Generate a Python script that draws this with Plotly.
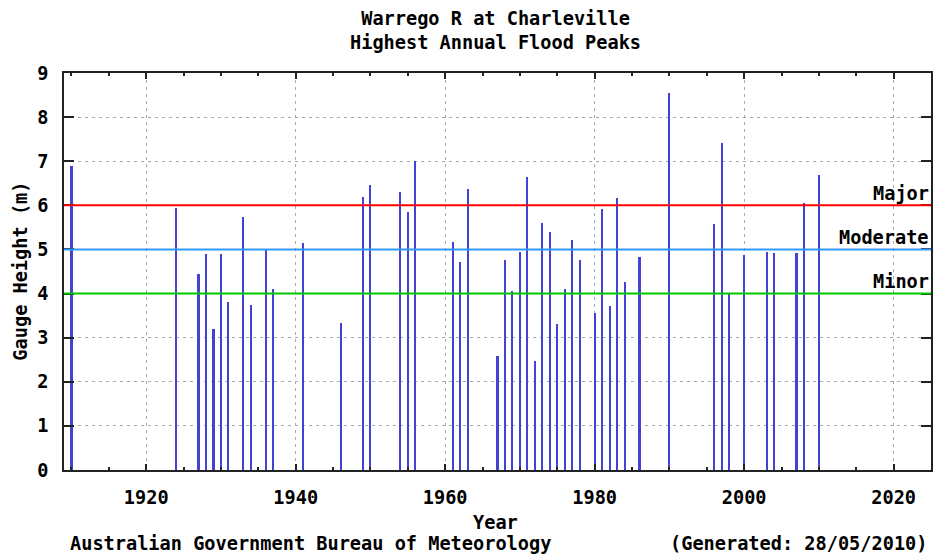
import plotly.graph_objects as go

# ---- data ----
years = [1910, 1924, 1927, 1928, 1929, 1930, 1931, 1933, 1934, 1936, 1937, 1941,
         1946, 1949, 1950, 1954, 1955, 1956, 1961, 1962, 1963, 1967, 1968, 1969,
         1970, 1971, 1972, 1973, 1974, 1975, 1976, 1977, 1978, 1980, 1981, 1982,
         1983, 1984, 1986, 1990, 1996, 1997, 1998, 2000, 2003, 2004, 2007, 2008,
         2010]
heights = [6.90, 5.94, 4.44, 4.89, 3.20, 4.89, 3.82, 5.73, 3.74, 5.02, 4.11, 5.14,
           3.34, 6.20, 6.46, 6.31, 5.84, 7.00, 5.17, 4.71, 6.38, 2.58, 4.77, 4.05,
           4.95, 6.64, 2.47, 5.61, 5.39, 3.31, 4.11, 5.21, 4.77, 3.56, 5.91, 3.71,
           6.16, 4.26, 4.84, 8.55, 5.58, 7.41, 4.00, 4.88, 4.95, 4.92, 4.92, 6.05,
           6.68]
level_names = ["Minor", "Moderate", "Major"]
level_values = [4, 5, 6]
level_colors = ["#00c800", "#3399ff", "#ff0000"]

x_range = [1909, 2025]
y_range = [0, 9]

FONT = "DejaVu Sans Mono"
FS = 18.6
BAR_COLOR = "#4242d4"

fig = go.Figure()
fig.add_trace(go.Bar(x=years, y=heights, width=0.28,
                     marker=dict(color=BAR_COLOR, line=dict(width=0)),
                     showlegend=False))

for name, val, col in zip(level_names, level_values, level_colors):
    fig.add_shape(type="line", xref="paper", x0=0, x1=1, yref="y", y0=val, y1=val,
                  line=dict(color=col, width=2), layer="above")
    fig.add_annotation(xref="paper", x=1.0, yref="y", y=val, yshift=12,
                       text=name, showarrow=False, xanchor="right", yanchor="middle",
                       font=dict(family=FONT, size=FS, color="black", weight="bold"))

grid = dict(showgrid=True, gridcolor="#a8a8a8", griddash="3px,4px", gridwidth=1)

fig.update_xaxes(range=x_range, tickmode="linear", tick0=1920, dtick=20,
                 ticks="inside", ticklen=6, tickwidth=1.5, tickcolor="#222",
                 showline=True, linecolor="#222", linewidth=1.5, mirror="ticks",
                 zeroline=False, ticklabelstandoff=10,
                 minor=dict(tick0=1910, dtick=5, ticks="inside", ticklen=3,
                            tickcolor="#222", showgrid=False),
                 tickfont=dict(family=FONT, size=FS, color="black", weight="bold"),
                 **grid)
fig.update_yaxes(range=y_range, tickmode="linear", tick0=0, dtick=1,
                 ticks="inside", ticklen=10, tickwidth=1.5, tickcolor="#222",
                 showline=True, linecolor="#222", linewidth=1.5, mirror="ticks",
                 zeroline=False, ticklabelstandoff=10,
                 tickfont=dict(family=FONT, size=FS, color="black", weight="bold"),
                 **grid)

def txt(text, x, y, xanchor="center", angle=0):
    fig.add_annotation(xref="paper", yref="paper", x=x, y=y, text=text,
                       showarrow=False, xanchor=xanchor, yanchor="middle",
                       textangle=angle,
                       font=dict(family=FONT, size=FS, color="black", weight="bold"))

txt("Warrego R at Charleville<br>Highest Annual Flood Peaks", 0.4977, 1.1058)
txt("Gauge Height (m)", -0.0506, 0.5, angle=-90)
txt("Year", 0.4977, -0.131)
txt("Australian Government Bureau of Meteorology", 0.0046, -0.186, xanchor="left")
txt("(Generated: 28/05/2010)", 0.9975, -0.186, xanchor="right")

fig.update_layout(width=934, height=555,
                  margin=dict(l=64, r=1, t=73, b=85),
                  plot_bgcolor="white", paper_bgcolor="white",
                  bargap=0, showlegend=False)

fig.write_html("out.html", config={"displayModeBar": False},
               post_script="document.body.style.margin='0';document.body.style.overflow='hidden';")
